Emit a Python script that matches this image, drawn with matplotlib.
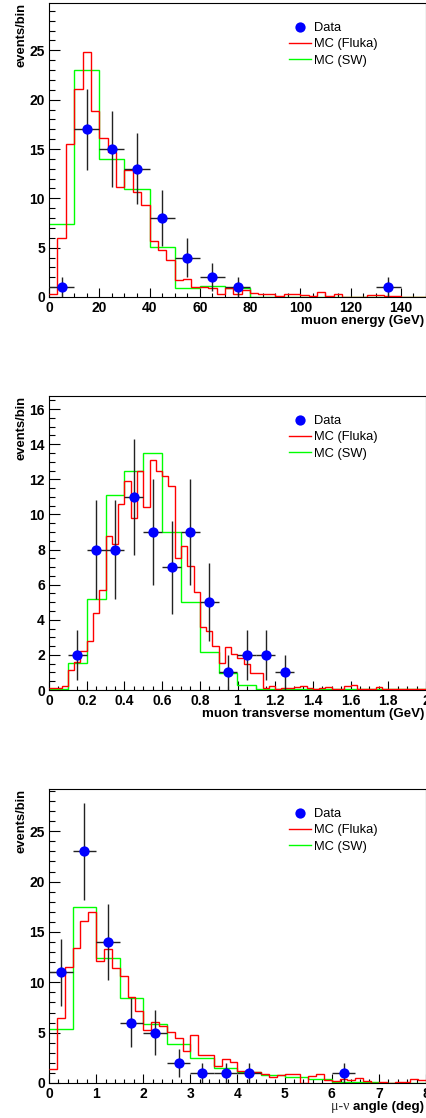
import numpy as np
import matplotlib
matplotlib.use('Agg')
import matplotlib.pyplot as plt
from matplotlib.lines import Line2D
from matplotlib.ticker import MultipleLocator, FormatStrFormatter

plt.rcParams['font.family'] = ['Liberation Sans', 'DejaVu Sans']
plt.rcParams['font.weight'] = 'bold'
plt.rcParams['axes.labelweight'] = 'bold'

# Myon-Energie (GeV), 0..150
energie_bereich = [0, 150]
energie_data = [1, 17, 15, 13, 8, 4, 2, 1, 0, 0, 0, 0, 0, 1, 0]
energie_sw = [7.45, 23.0, 13.95, 10.95, 5.03, 0.95, 1.1, 0.95, 0, 0, 0, 0, 0, 0, 0]
energie_fluka = [0.3, 5.95, 15.5, 21.1, 24.85, 18.9, 16.1, 14.65, 11.1, 12.9, 10.65, 9.3, 5.65, 4.75, 3.75,
                 1.7, 1.8, 1.0, 1.0, 0.95, 0.27, 0.95, 0.3, 0.75, 0.45, 0.35, 0.35, 0.07, 0.3, 0.3,
                 0.17, 0.07, 0.47, 0.07, 0.3, 0, 0, 0, 0.17, 0.17, 0.07, 0.07, 0, 0, 0]

# Transversalimpuls (GeV), 0..2
pt_bereich = [0, 2]
pt_data = [0, 2, 8, 8, 11, 9, 7, 9, 5, 1, 2, 2, 1, 0, 0, 0, 0, 0, 0, 0]
pt_sw = [0.05, 1.55, 5.2, 11.1, 12.5, 13.5, 9.0, 5.0, 2.15, 0.98, 0.28, 0.03, 0.05, 0.05, 0.05,
         0.08, 0.05, 0.03, 0.03, 0.03]
pt_fluka = [0.1, 0.1, 0.25, 1.15, 1.6, 2.2, 2.8, 4.4, 5.7, 8.8, 8.3, 10.6, 11.9, 9.8, 12.5,
            10.4, 13.1, 12.5, 12.2, 11.6, 7.5, 8.2, 7.05, 5.6, 3.6, 3.35, 2.5, 1.55, 2.45, 2.05,
            1.85, 1.5, 0.97, 0.97, 0.12, 0.25, 0.05, 0.1, 0.1, 0.15, 0.25, 0.1, 0.05, 0.1, 0.15,
            0.05, 0.05, 0.2, 0.3, 0.05, 0.05, 0.05, 0.15, 0.05, 0.05, 0.05, 0.05, 0.05, 0.05, 0.05]

# Winkel mu-nu (deg), 0..8
winkel_bereich = [0, 8]
winkel_data = [11, 23, 14, 6, 5, 2, 1, 1, 1, 0, 0, 0, 1, 0, 0, 0]
winkel_sw = [5.4, 17.5, 12.45, 8.45, 5.85, 3.85, 2.5, 1.5, 1.05, 0.75, 0.55, 0.35, 0.12, 0.05, 0.03, 0.03]
winkel_fluka = [1.38, 6.5, 11.5, 13.45, 16.1, 17.0, 12.15, 13.35, 11.4, 10.65, 8.5, 7.15, 5.3, 6.1, 5.65,
                5.05, 4.45, 3.2, 4.8, 2.75, 2.8, 1.7, 2.35, 2.1, 1.2, 1.15, 1.05, 0.9, 0.55, 0.75,
                0.9, 0.9, 0, 0.7, 0.9, 0.3, 0.15, 0.4, 0.25, 0.5, 0.15, 0, 0.1, 0, 0.1, 0.1, 0.4, 0.25]

legende = ['Data', 'MC (Fluka)', 'MC (SW)']


def panel(ax, bereich, data, sw, fluka, ymax, xmaj, xmin, ymaj, ymin, xlabel):
    kanten = np.linspace(bereich[0], bereich[1], len(data) + 1)
    kanten_fein = np.linspace(bereich[0], bereich[1], len(fluka) + 1)
    ax.stairs(sw, kanten, baseline=None, color=(0, 1, 0), lw=1.0, zorder=2)
    ax.stairs(fluka, kanten_fein, baseline=None, color=(1, 0, 0), lw=1.0, zorder=3)

    n = np.array(data, dtype=float)
    mitte = (kanten[:-1] + kanten[1:]) / 2
    m = n > 0
    halb = (kanten[1] - kanten[0]) / 2
    ax.errorbar(mitte[m], n[m], yerr=np.sqrt(n[m]), xerr=halb, fmt='none', ecolor='#222222',
                elinewidth=1.0, capsize=0, zorder=4)
    ax.plot(mitte[m], n[m], 'o', color=(0, 0, 1), ms=7.4, mec='none', zorder=5)

    ax.set_xlim(bereich)
    ax.set_ylim(0, ymax)
    ax.xaxis.set_major_locator(MultipleLocator(xmaj))
    ax.xaxis.set_minor_locator(MultipleLocator(xmin))
    ax.yaxis.set_major_locator(MultipleLocator(ymaj))
    ax.yaxis.set_minor_locator(MultipleLocator(ymin))
    ax.xaxis.set_major_formatter(FormatStrFormatter('%g'))
    ax.yaxis.set_major_formatter(FormatStrFormatter('%g'))
    ax.tick_params(which='both', direction='in', top=False, right=False, labelsize=10)
    ax.tick_params(axis='x', which='major', length=6.3, width=0.8, pad=3)
    ax.tick_params(axis='x', which='minor', length=3.2, width=0.8)
    ax.tick_params(axis='y', which='major', length=8.1, width=0.8, pad=3)
    ax.tick_params(axis='y', which='minor', length=4.1, width=0.8)
    for s in ax.spines.values():
        s.set_linewidth(0.8)

    ax.set_ylabel('events/bin', fontsize=9.4, fontweight='bold', loc='top')
    ax.yaxis.set_label_coords(-0.057, 1.0)
    if xlabel is not None:
        ax.set_xlabel(xlabel, fontsize=9.6, fontweight='bold', loc='right')
        ax.xaxis.label.set_va('center')
        ax.xaxis.set_label_coords(0.995, -0.08)

    griffe = [Line2D([], [], ls='none', marker='o', color=(0, 0, 1), ms=7.4, mec='none'),
              Line2D([], [], color=(1, 0, 0), lw=1.0),
              Line2D([], [], color=(0, 1, 0), lw=1.0)]
    ax.legend(griffe, legende, loc='upper left', bbox_to_anchor=(0.637, 0.935), frameon=False,
              borderpad=0, borderaxespad=0, handlelength=1.7, handletextpad=0.25,
              labelspacing=0.32, prop={'size': 9.3, 'weight': 'normal'})


fig = plt.figure(figsize=(4.27, 11.18), dpi=100)
links = 49 / 427
breite = 377 / 427
hoehe = 294 / 1118

ax1 = fig.add_axes([links, 1 - 297 / 1118, breite, hoehe])
panel(ax1, energie_bereich, energie_data, energie_sw, energie_fluka, 29.8, 20, 5, 5, 1, 'muon energy (GeV)')

ax2 = fig.add_axes([links, 1 - 690 / 1118, breite, hoehe])
panel(ax2, pt_bereich, pt_data, pt_sw, pt_fluka, 16.75, 0.2, 0.05, 2, 0.5, 'muon transverse momentum (GeV)')

ax3 = fig.add_axes([links, 1 - 1083 / 1118, breite, hoehe])
panel(ax3, winkel_bereich, winkel_data, winkel_sw, winkel_fluka, 29.2, 1, 0.2, 5, 1, None)
t = ax3.text(0.995, -0.08, 'angle (deg)', transform=ax3.transAxes, ha='right', va='center',
             fontsize=9.6, fontweight='bold')
ax3.annotate('\u03bc-\u03bd ', xy=(0, 0.5), xycoords=t, ha='right', va='center',
             fontsize=10, fontweight='normal', color='#333333', family=['Liberation Serif', 'DejaVu Serif'])

fig.savefig('out.png', dpi=100)
